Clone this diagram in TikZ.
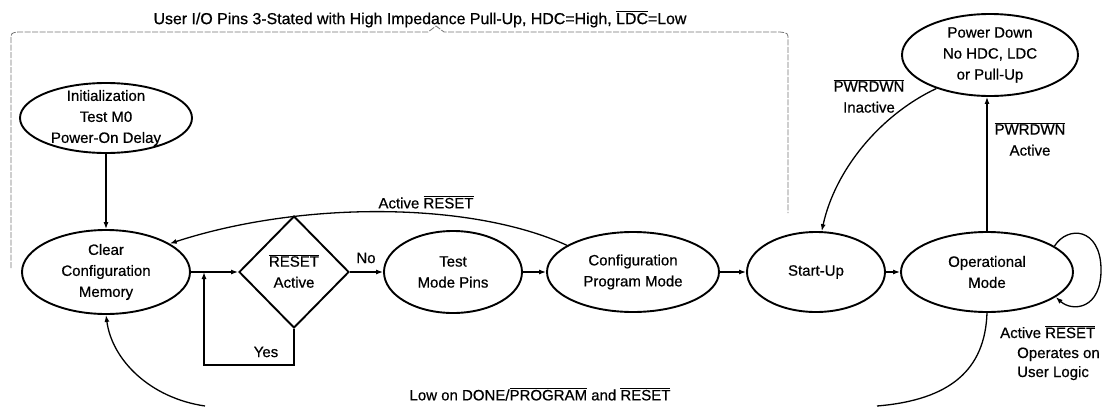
\documentclass[tikz,border=0pt]{standalone}
\usepackage{fontspec}
\setmainfont{Liberation Sans}[FakeBold=0.6]
\usetikzlibrary{shapes.geometric,arrows.meta}
\newcommand\ovl[1]{$\smash{\overline{\hbox{#1}}}\vphantom{\hbox{#1}}$}
\begin{document}
\begin{tikzpicture}[x=1pt,y=-1pt,
  every node/.style={font=\fontsize{15}{21}\selectfont, align=center, inner sep=0pt},
  state/.style={ellipse, draw, line width=1.9pt, inner xsep=0pt, inner ysep=-15pt},
  decision/.style={diamond, draw, line width=1.9pt, inner sep=0pt},
  conn/.style={line width=1.3pt, -{Latex[length=7pt,width=5pt]}},
  plainline/.style={line width=1.3pt},
  brace/.style={draw=black!55, line width=0.8pt, dash pattern=on 6pt off 1.5pt}]
\useasboundingbox (0,0) rectangle (1104,407);

% states
\node[state, minimum width=172pt, minimum height=70pt] (init) at (106,118) {Initialization\\Test M0\\Power-On Delay};
\node[state, minimum width=168pt, minimum height=84pt] (clear) at (106,272) {Clear\\Configuration\\Memory};
\node[decision, minimum width=110pt, minimum height=112pt] (dec) at (294,272) {\ovl{RESET}\\Active};
\node[state, minimum width=138pt, minimum height=82pt] (test) at (453,272) {Test\\Mode Pins};
\node[state, minimum width=172pt, minimum height=80pt] (cfg) at (633,272) {Configuration\\Program Mode};
\node[state, minimum width=138pt, minimum height=80pt] (start) at (816,272) {Start-Up};
\node[state, minimum width=172pt, minimum height=80pt] (oper) at (987,272) {Operational\\Mode};
\node[state, minimum width=176pt, minimum height=82pt] (pdown) at (990,55) {Power Down\\No HDC, LDC\\or Pull-Up};

% labels
\node[font=\fontsize{15.9}{21}\selectfont] (title) at (420,20) {User I/O Pins 3-Stated with High Impedance Pull-Up, HDC=High, \ovl{LDC}=Low};
\node (lblreset) at (426,203) {Active \ovl{RESET}};
\node (lblno) at (366,258) {No};
\node (lblyes) at (266,352) {Yes};
\node (lblinact) at (869,97) {\ovl{PWRDWN}\\Inactive};
\node (lblact) at (1030,140) {\ovl{PWRDWN}\\Active};
\node (lbllow) at (540,395) {Low on DONE/\ovl{PROGRAM} and \ovl{RESET}};
\node[anchor=base west] (lblop1) at (1000,338) {Active \ovl{RESET}};
\node[anchor=base west] (lblop2) at (1017,358) {Operates on};
\node[anchor=base west] (lblop3) at (1017,377) {User Logic};

% brace
\draw[brace] (11,268) -- (11,40) .. controls (11,33) .. (18,32) -- (428,32) -- (436,26) -- (444,32) -- (780,32) .. controls (788,33) .. (788,40) -- (788,213);

% connectors
\draw[conn] (init) -- (clear);
\draw[conn] (clear) -- (dec);
\coordinate (ycorner) at (204,365);
\draw[conn] (dec.south) |- (ycorner) -- (ycorner |- clear.east);
\draw[conn] (dec) -- (test);
\draw[conn] (test) -- (cfg);
\draw[conn] (cfg) -- (start);
\draw[conn] (start) -- (oper);
\draw[conn] (cfg.158) .. controls (470,201) and (300,201) .. (clear.24);
\draw[conn] (pdown.212) .. controls (880,115) and (835,170) .. (start.82);
\draw[conn] (oper.north) -- (oper.north |- pdown.south);
\draw[conn] (oper.21) .. controls (1068,225) and (1100,228) .. (1101,268) .. controls (1102,310) and (1072,312) .. (oper.-20);
\coordinate (bl) at (205,406);
\coordinate (br) at (877,406);
\draw[plainline] (oper.south) .. controls (985,370) and (950,400) .. (br);
\draw[conn] (bl) .. controls (150,398) and (112,360) .. (clear.south);
\end{tikzpicture}
\end{document}
